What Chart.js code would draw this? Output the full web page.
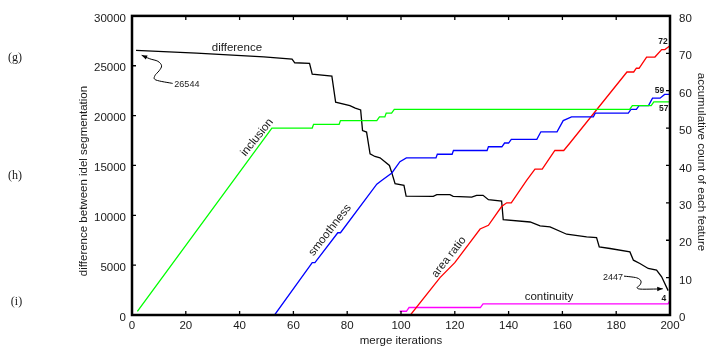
<!DOCTYPE html>
<html><head><meta charset="utf-8">
<script src="https://cdn.jsdelivr.net/npm/chart.js@4"></script>
<style>html,body{margin:0;padding:0;background:#fff}#wrap{width:707px;height:347px;position:relative}</style>
</head><body><div id="wrap"><canvas id="c" width="707" height="347"></canvas></div>
<script>
// ---- tick labels ----
const iterTicks = [0, 20, 40, 60, 80, 100, 120, 140, 160, 180, 200];
const diffTicks = [0, 5000, 10000, 15000, 20000, 25000, 30000];
const countTicks = [0, 10, 20, 30, 40, 50, 60, 70, 80];

// ---- difference between ideal segmentation (left axis) ----
const diffIter  = [1.5, 24, 49, 59.5, 60.5, 66, 67, 74.3, 75.7, 81, 83, 85, 85.7, 87.2, 88.5, 90.3, 92.2, 95.7, 96.5, 97.8, 101.1, 101.9, 112, 113.3, 118.2, 119.4, 126.3, 128.1, 130.5, 132.5, 137.4, 138, 148, 151.7, 155.4, 161.6, 169, 172.7, 173.7, 177.7, 185.1, 186.4, 188.8, 191.9, 195, 196.9, 199.3];
const diffValue = [26544, 26270, 25900, 25670, 25300, 25230, 24150, 23950, 21350, 21000, 20750, 20570, 18500, 18350, 16170, 15900, 15770, 15000, 14330, 13170, 13000, 11930, 11900, 12070, 12070, 11900, 11830, 12000, 12000, 11570, 11430, 9570, 9330, 8930, 8830, 8100, 7830, 7770, 6830, 6670, 6330, 5500, 5170, 4670, 4500, 3830, 2447];

// ---- accumulative counts (right axis) ----
const inclIter  = [2, 52, 67, 67.5, 77, 77.5, 91, 92, 94, 94.5, 96.5, 97.5, 185, 186, 193, 194, 200];
const inclCount = [1, 50, 50, 51, 51, 52, 52, 53, 53, 54, 54, 55, 55, 56, 56, 57, 57];

const smoothIter  = [53, 67, 68, 76.5, 77.5, 91, 92.8, 96.6, 99.6, 102, 113, 113.5, 119, 119.5, 132, 132.5, 137.5, 138.5, 140, 141, 150.5, 152, 158, 160.3, 163.4, 171.5, 172.2, 184.5, 185.5, 187.5, 188.5, 192, 193.5, 196.3, 198, 200];
const smoothCount = [0, 14, 14, 22, 22, 35, 36, 38, 41, 42, 42, 43, 43, 44, 44, 45, 45, 46, 46, 47, 47, 49, 49, 52, 53, 53, 54, 54, 55, 55, 56, 56, 58, 58, 59, 59];

const areaIter  = [103.5, 114.5, 120, 129.4, 132.5, 137.4, 139.3, 141, 146.7, 149.8, 152.5, 157.2, 160.5, 162.8, 184, 186.5, 187.5, 188.5, 191.3, 194.4, 196.9, 198.1, 200];
const areaCount = [0, 10, 14, 23, 24, 29, 30, 30, 36, 39, 39, 44, 44, 46, 65, 65, 66, 66, 69, 69, 71, 71, 72];

const contIter  = [99.5, 102, 103, 129.5, 130.5, 199.3, 200];
const contCount = [1, 1, 2, 2, 3, 3, 4];

const pts = (xs, ys) => xs.map((x, i) => ({x: x, y: ys[i]}));
const FONT = '"Liberation Sans", Arial, Helvetica, sans-serif';
const TXT = '#1a1a1a';

function catmull(ctx, p) {
  ctx.moveTo(p[0].x, p[0].y);
  for (let i = 0; i < p.length - 1; i++) {
    const p0 = p[i - 1] || p[i], p1 = p[i], p2 = p[i + 1], p3 = p[i + 2] || p[i + 1];
    ctx.bezierCurveTo(p1.x + (p2.x - p0.x) / 6, p1.y + (p2.y - p0.y) / 6,
                      p2.x - (p3.x - p1.x) / 6, p2.y - (p3.y - p1.y) / 6, p2.x, p2.y);
  }
}
function arrowHead(ctx, tip, from) {
  const a = Math.atan2(tip.y - from.y, tip.x - from.x);
  const L = 5.5, W = 2.2;
  ctx.beginPath();
  ctx.moveTo(tip.x, tip.y);
  ctx.lineTo(tip.x - L * Math.cos(a) + W * Math.sin(a), tip.y - L * Math.sin(a) - W * Math.cos(a));
  ctx.lineTo(tip.x - L * Math.cos(a) - W * Math.sin(a), tip.y - L * Math.sin(a) + W * Math.cos(a));
  ctx.closePath();
  ctx.fill();
}

const decor = {
  id: 'decor',
  afterDraw(chart) {
    const ctx = chart.ctx, a = chart.chartArea;
    const sx = chart.scales.x, sy = chart.scales.y, sy1 = chart.scales.y1;
    ctx.save();
    // frame
    ctx.strokeStyle = '#000';
    ctx.lineWidth = 2.5;
    ctx.strokeRect(a.left, a.top, a.right - a.left, a.bottom - a.top);
    // inward tick marks
    ctx.lineWidth = 1.3;
    ctx.beginPath();
    sx.ticks.forEach(t => {
      const px = sx.getPixelForValue(t.value);
      ctx.moveTo(px, a.bottom); ctx.lineTo(px, a.bottom - 4);
      ctx.moveTo(px, a.top); ctx.lineTo(px, a.top + 4);
    });
    sy.ticks.forEach(t => {
      const py = sy.getPixelForValue(t.value);
      ctx.moveTo(a.left, py); ctx.lineTo(a.left + 4, py);
    });
    sy1.ticks.forEach(t => {
      const py = sy1.getPixelForValue(t.value);
      ctx.moveTo(a.right, py); ctx.lineTo(a.right - 4, py);
    });
    ctx.stroke();

    // axis titles
    ctx.fillStyle = TXT;
    ctx.font = '11.5px ' + FONT;
    ctx.textAlign = 'center';
    ctx.textBaseline = 'middle';
    ctx.fillText('merge iterations', (a.left + a.right) / 2, 340.5);
    ctx.save(); ctx.translate(84, 181); ctx.rotate(-Math.PI / 2);
    ctx.fillText('difference between idel segmentation', 0, 0); ctx.restore();
    ctx.save(); ctx.translate(701, 162); ctx.rotate(Math.PI / 2);
    ctx.fillText('accumulative count of each feature', 0, 0); ctx.restore();

    // side labels
    ctx.font = '12px "Liberation Serif", "Times New Roman", serif';
    ctx.fillText('(g)', 15, 57.5);
    ctx.fillText('(h)', 15, 175.5);
    ctx.fillText('(i)', 16.5, 301.5);

    // series labels
    const P = (x, y, sc) => ({x: sx.getPixelForValue(x), y: sc.getPixelForValue(y)});
    const labels = [
      {t: 'difference', x: 39, y: 26800, s: sy, r: 0},
      {t: 'inclusion', x: 46.5, y: 47.5, s: sy1, r: -51},
      {t: 'smoothness', x: 73.6, y: 22.7, s: sy1, r: -52},
      {t: 'area ratio', x: 117.8, y: 15.5, s: sy1, r: -52},
      {t: 'continuity', x: 155, y: 4.8, s: sy1, r: 0}
    ];
    ctx.font = '11.5px ' + FONT;
    labels.forEach(l => {
      const p = P(l.x, l.y, l.s);
      ctx.save(); ctx.translate(p.x, p.y); ctx.rotate(l.r * Math.PI / 180);
      ctx.fillText(l.t, 0, 0); ctx.restore();
    });

    // value notes
    ctx.font = '9px ' + FONT;
    let p = P(20.4, 23150, sy); ctx.fillText('26544', p.x, p.y);
    p = P(178.8, 3800, sy); ctx.fillText('2447', p.x, p.y);
    ctx.font = 'bold 8.5px ' + FONT;
    [['72', 197.4, 73.1], ['59', 196.1, 60], ['57', 197.7, 55.3], ['4', 197.7, 4.5]].forEach(n => {
      const q = P(n[1], n[2], sy1); ctx.fillText(n[0], q.x, q.y);
    });

    // curly arrows
    ctx.strokeStyle = '#000'; ctx.fillStyle = '#000'; ctx.lineWidth = 1;
    const arr1 = [[15.1, 23230], [8.9, 23570], [8.5, 24000], [10.1, 24500], [11, 25000], [9.6, 25450], [6.6, 25700], [3.6, 26050]].map(v => P(v[0], v[1], sy));
    ctx.beginPath(); catmull(ctx, arr1); ctx.stroke();
    arrowHead(ctx, arr1[arr1.length - 1], arr1[arr1.length - 2]);
    const arr2 = [[182.9, 3900], [187.6, 3730], [189.2, 3400], [188.8, 3000], [187.8, 2770], [188.8, 2600], [193.8, 2600], [197.3, 2630]].map(v => P(v[0], v[1], sy));
    ctx.beginPath(); catmull(ctx, arr2); ctx.stroke();
    arrowHead(ctx, arr2[arr2.length - 1], arr2[arr2.length - 2]);
    ctx.restore();
  }
};

const tickFont = {family: FONT, size: 11.5};
const noGrid = {display: false, drawTicks: false, tickLength: 0};
new Chart(document.getElementById('c'), {
  type: 'line',
  data: {
    datasets: [
      {label: 'inclusion', data: pts(inclIter, inclCount), yAxisID: 'y1', borderColor: '#00ff00'},
      {label: 'smoothness', data: pts(smoothIter, smoothCount), yAxisID: 'y1', borderColor: '#0000ff'},
      {label: 'area ratio', data: pts(areaIter, areaCount), yAxisID: 'y1', borderColor: '#ff0000'},
      {label: 'continuity', data: pts(contIter, contCount), yAxisID: 'y1', borderColor: '#ff00ff'},
      {label: 'difference', data: pts(diffIter, diffValue), yAxisID: 'y', borderColor: '#000000'}
    ]
  },
  options: {
    responsive: false,
    animation: false,
    devicePixelRatio: 1,
    layout: {padding: {top: 15, left: 0, right: 0, bottom: 0}},
    elements: {point: {radius: 0}, line: {borderWidth: 1.3, tension: 0, fill: false}},
    plugins: {legend: {display: false}, tooltip: {enabled: false}},
    scales: {
      x: {
        type: 'linear', min: 0, max: 200,
        afterBuildTicks: s => { s.ticks = iterTicks.map(v => ({value: v})); },
        afterFit: s => { s.height = 32; },
        grid: noGrid, border: {display: false},
        ticks: {font: tickFont, color: TXT, padding: 4, maxRotation: 0, autoSkip: false}
      },
      y: {
        type: 'linear', position: 'left', min: 0, max: 30000,
        afterBuildTicks: s => { s.ticks = diffTicks.map(v => ({value: v})); },
        afterFit: s => { s.width = 132; },
        grid: noGrid, border: {display: false},
        ticks: {font: tickFont, color: TXT, padding: 6, labelOffset: 2.5, autoSkip: false, callback: v => String(v)}
      },
      y1: {
        type: 'linear', position: 'right', min: 0, max: 80,
        afterBuildTicks: s => { s.ticks = countTicks.map(v => ({value: v})); },
        afterFit: s => { s.width = 37; },
        grid: noGrid, border: {display: false},
        ticks: {font: tickFont, color: TXT, padding: 9, labelOffset: 3, autoSkip: false, callback: v => String(v)}
      }
    }
  },
  plugins: [decor]
});
</script>
</body></html>
